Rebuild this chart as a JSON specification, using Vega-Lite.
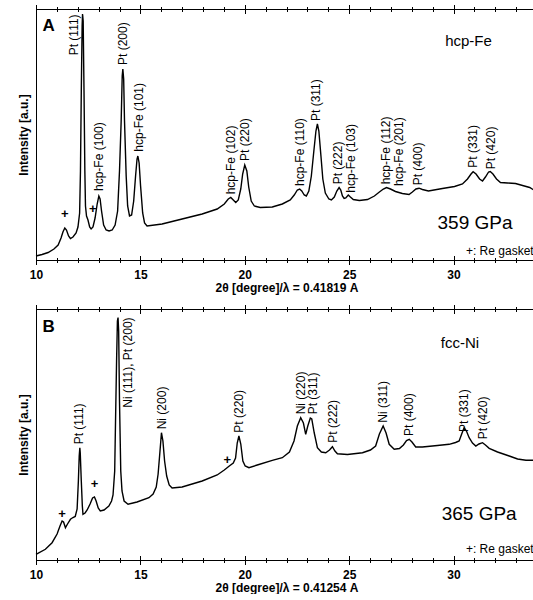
{
  "$schema": "https://vega.github.io/schema/vega-lite/v6.json",
  "padding": {"left": 16, "top": 3, "right": 0, "bottom": 0},
  "bounds": "flush",
  "spacing": 49,
  "datasets": {
    "lineA": [
      {"t":10.00,"i":4},{"t":10.29,"i":5.5},{"t":10.58,"i":7.5},{"t":10.86,"i":11},{"t":11.06,"i":15},{"t":11.20,"i":22},{"t":11.29,"i":28},{"t":11.38,"i":32},{"t":11.46,"i":30},{"t":11.56,"i":24},{"t":11.65,"i":21.5},{"t":11.77,"i":23},{"t":11.92,"i":27},{"t":12.01,"i":33},{"t":12.09,"i":47},{"t":12.13,"i":89},{"t":12.17,"i":169},{"t":12.21,"i":234},{"t":12.23,"i":246},{"t":12.26,"i":239},{"t":12.30,"i":169},{"t":12.34,"i":89},{"t":12.37,"i":54},{"t":12.42,"i":44},{"t":12.49,"i":40},{"t":12.57,"i":33},{"t":12.64,"i":31},{"t":12.73,"i":33},{"t":12.83,"i":42},{"t":12.93,"i":56},{"t":13.01,"i":64},{"t":13.07,"i":61},{"t":13.14,"i":49},{"t":13.24,"i":35},{"t":13.36,"i":30},{"t":13.50,"i":29},{"t":13.65,"i":30},{"t":13.79,"i":35},{"t":13.91,"i":49},{"t":14.00,"i":89},{"t":14.08,"i":139},{"t":14.13,"i":184},{"t":14.16,"i":191},{"t":14.20,"i":181},{"t":14.24,"i":139},{"t":14.32,"i":84},{"t":14.39,"i":54},{"t":14.48,"i":44},{"t":14.58,"i":45},{"t":14.68,"i":59},{"t":14.77,"i":84},{"t":14.84,"i":101},{"t":14.88,"i":104},{"t":14.94,"i":97},{"t":15.01,"i":74},{"t":15.11,"i":47},{"t":15.20,"i":37},{"t":15.32,"i":34},{"t":16.04,"i":36},{"t":17.00,"i":41},{"t":17.96,"i":46},{"t":18.68,"i":51},{"t":19.02,"i":56},{"t":19.21,"i":61},{"t":19.33,"i":62.5},{"t":19.45,"i":60},{"t":19.57,"i":57.5},{"t":19.69,"i":60},{"t":19.81,"i":71},{"t":19.90,"i":86},{"t":20.00,"i":95},{"t":20.10,"i":89},{"t":20.19,"i":73},{"t":20.31,"i":59},{"t":20.46,"i":54},{"t":20.74,"i":52.5},{"t":21.32,"i":53},{"t":21.80,"i":56},{"t":22.18,"i":60},{"t":22.37,"i":65},{"t":22.52,"i":70},{"t":22.63,"i":71},{"t":22.73,"i":69},{"t":22.85,"i":65},{"t":22.95,"i":64},{"t":23.07,"i":69},{"t":23.19,"i":84},{"t":23.31,"i":109},{"t":23.41,"i":129},{"t":23.48,"i":136},{"t":23.55,"i":129},{"t":23.65,"i":104},{"t":23.74,"i":81},{"t":23.86,"i":67},{"t":24.03,"i":61},{"t":24.15,"i":60},{"t":24.29,"i":63},{"t":24.41,"i":69},{"t":24.52,"i":72.5},{"t":24.60,"i":70},{"t":24.68,"i":64},{"t":24.76,"i":61.5},{"t":24.84,"i":62},{"t":24.96,"i":65},{"t":25.06,"i":63},{"t":25.20,"i":60.5},{"t":25.49,"i":59.5},{"t":25.88,"i":60.5},{"t":26.21,"i":64},{"t":26.45,"i":68},{"t":26.64,"i":71},{"t":26.79,"i":72.5},{"t":26.98,"i":71},{"t":27.22,"i":68.5},{"t":27.55,"i":66.5},{"t":27.87,"i":65.5},{"t":28.03,"i":68},{"t":28.20,"i":71},{"t":28.35,"i":71.8},{"t":28.51,"i":70.5},{"t":28.80,"i":69},{"t":29.47,"i":71.5},{"t":30.05,"i":73.5},{"t":30.43,"i":76},{"t":30.67,"i":81},{"t":30.84,"i":86},{"t":30.94,"i":88.3},{"t":31.08,"i":86},{"t":31.25,"i":81},{"t":31.39,"i":79},{"t":31.53,"i":83},{"t":31.68,"i":88},{"t":31.76,"i":88.5},{"t":31.89,"i":86},{"t":32.06,"i":81},{"t":32.25,"i":77.5},{"t":32.59,"i":77},{"t":32.97,"i":76.5},{"t":33.31,"i":74.5},{"t":33.65,"i":72.5},{"t":33.93,"i":69}
    ],
    "lineB": [
      {"t":10.00,"i":5.7},{"t":10.45,"i":10.7},{"t":10.77,"i":17.3},{"t":11.01,"i":26},{"t":11.15,"i":34},{"t":11.25,"i":39},{"t":11.32,"i":38},{"t":11.41,"i":32.3},{"t":11.51,"i":36},{"t":11.65,"i":40.7},{"t":11.77,"i":42.5},{"t":11.88,"i":43.5},{"t":11.97,"i":51},{"t":12.03,"i":79},{"t":12.07,"i":104},{"t":12.10,"i":112.3},{"t":12.12,"i":107},{"t":12.17,"i":79},{"t":12.22,"i":54},{"t":12.25,"i":45.7},{"t":12.35,"i":47},{"t":12.45,"i":50},{"t":12.59,"i":56},{"t":12.71,"i":62},{"t":12.80,"i":63},{"t":12.88,"i":59},{"t":12.98,"i":52},{"t":13.08,"i":49},{"t":13.26,"i":50},{"t":13.49,"i":54},{"t":13.62,"i":59},{"t":13.69,"i":65},{"t":13.77,"i":89},{"t":13.81,"i":139},{"t":13.86,"i":199},{"t":13.90,"i":239},{"t":13.93,"i":242.5},{"t":13.96,"i":229},{"t":14.00,"i":159},{"t":14.06,"i":89},{"t":14.12,"i":69},{"t":14.22,"i":59},{"t":14.41,"i":55.7},{"t":14.84,"i":58},{"t":15.41,"i":62.3},{"t":15.61,"i":66},{"t":15.76,"i":73},{"t":15.85,"i":86},{"t":15.94,"i":109},{"t":16.01,"i":127.3},{"t":16.08,"i":119},{"t":16.16,"i":99},{"t":16.26,"i":84},{"t":16.38,"i":75},{"t":16.52,"i":72},{"t":17.00,"i":73},{"t":17.96,"i":79},{"t":18.68,"i":85},{"t":19.02,"i":90},{"t":19.26,"i":94},{"t":19.45,"i":97},{"t":19.56,"i":102},{"t":19.64,"i":117},{"t":19.72,"i":124},{"t":19.81,"i":116},{"t":19.91,"i":99},{"t":20.02,"i":94},{"t":20.20,"i":92.3},{"t":20.60,"i":95},{"t":21.32,"i":99.7},{"t":21.80,"i":102.3},{"t":22.14,"i":108},{"t":22.36,"i":119},{"t":22.52,"i":134},{"t":22.68,"i":142.3},{"t":22.81,"i":137},{"t":22.92,"i":125.7},{"t":23.02,"i":134},{"t":23.14,"i":142},{"t":23.21,"i":141},{"t":23.33,"i":127},{"t":23.48,"i":112.3},{"t":23.67,"i":108},{"t":23.88,"i":107.3},{"t":24.06,"i":110},{"t":24.20,"i":113.3},{"t":24.32,"i":109},{"t":24.44,"i":106.3},{"t":24.92,"i":105.5},{"t":25.64,"i":107.3},{"t":26.02,"i":110},{"t":26.27,"i":114},{"t":26.45,"i":126},{"t":26.63,"i":134},{"t":26.77,"i":127},{"t":26.92,"i":115.7},{"t":27.16,"i":110.7},{"t":27.41,"i":111.5},{"t":27.60,"i":115},{"t":27.75,"i":119.5},{"t":27.88,"i":120.7},{"t":28.01,"i":118},{"t":28.19,"i":113},{"t":28.51,"i":113},{"t":29.23,"i":114.5},{"t":29.79,"i":115.7},{"t":30.10,"i":117.5},{"t":30.27,"i":119},{"t":30.41,"i":127},{"t":30.51,"i":132.3},{"t":30.62,"i":129},{"t":30.75,"i":122.3},{"t":30.91,"i":117},{"t":31.07,"i":114},{"t":31.22,"i":116},{"t":31.39,"i":117.3},{"t":31.53,"i":115},{"t":31.71,"i":111.7},{"t":32.11,"i":108},{"t":32.67,"i":104},{"t":33.07,"i":101},{"t":33.47,"i":99.7},{"t":33.93,"i":99.7}
    ],
    "hklA": [
      {"t":11.81,"i":204.7,"label":"Pt (111)"},
      {"t":13.01,"i":69,"label":"hcp-Fe (100)"},
      {"t":14.16,"i":195,"label":"Pt (200)"},
      {"t":14.93,"i":108.3,"label":"hcp-Fe (101)"},
      {"t":19.32,"i":65.7,"label":"hcp-Fe (102)"},
      {"t":20.01,"i":99,"label":"Pt (220)"},
      {"t":22.63,"i":74,"label":"hcp-Fe (110)"},
      {"t":23.43,"i":139,"label":"Pt (311)"},
      {"t":24.48,"i":75.7,"label":"Pt (222)"},
      {"t":25.07,"i":67.3,"label":"hcp-Fe (103)"},
      {"t":26.75,"i":75.7,"label":"hcp-Fe (112)"},
      {"t":27.40,"i":74,"label":"hcp-Fe (201)"},
      {"t":28.32,"i":74.7,"label":"Pt (400)"},
      {"t":30.94,"i":92.3,"label":"Pt (331)"},
      {"t":31.81,"i":90.7,"label":"Pt (420)"}
    ],
    "hklB": [
      {"t":12.05,"i":115.7,"label":"Pt (111)"},
      {"t":14.41,"i":152.3,"label":"Ni (111), Pt (200)"},
      {"t":16.04,"i":130.7,"label":"Ni (200)"},
      {"t":19.72,"i":127.3,"label":"Pt (220)"},
      {"t":22.68,"i":145.7,"label":"Ni (220)"},
      {"t":23.27,"i":145.7,"label":"Pt (311)"},
      {"t":24.23,"i":117.3,"label":"Pt (222)"},
      {"t":26.63,"i":137.3,"label":"Ni (311)"},
      {"t":27.88,"i":124,"label":"Pt (400)"},
      {"t":30.51,"i":128,"label":"Pt (331)"},
      {"t":31.42,"i":120.7,"label":"Pt (420)"}
    ],
    "annA": [
      {"t":11.38,"i":45.7,"label":"+","role":"plus"},
      {"t":12.72,"i":51.3,"label":"+","role":"plus"},
      {"t":10.60,"i":234.5,"label":"A","role":"tag"},
      {"t":30.72,"i":219,"label":"hcp-Fe","role":"phase"},
      {"t":31.03,"i":37.5,"label":"359 GPa","role":"pressure"},
      {"t":33.84,"i":9,"label":"+: Re gasket","role":"note"}
    ],
    "annB": [
      {"t":11.25,"i":45.7,"label":"+","role":"plus"},
      {"t":12.80,"i":75.7,"label":"+","role":"plus"},
      {"t":19.16,"i":99.7,"label":"+","role":"plus"},
      {"t":10.60,"i":233.5,"label":"B","role":"tag"},
      {"t":30.31,"i":217.3,"label":"fcc-Ni","role":"phase"},
      {"t":31.23,"i":45.7,"label":"365 GPa","role":"pressure"},
      {"t":33.84,"i":10.7,"label":"+: Re gasket","role":"note"}
    ]
  },
  "vconcat": [
    {
      "width": 501,
      "height": 251,
      "resolve": {"axis": {"x": "independent"}},
      "layer": [
        {
          "data": {"name": "lineA"},
          "mark": {"type": "line", "color": "black", "strokeWidth": 1.4},
          "encoding": {
            "x": {"field": "t", "type": "quantitative", "scale": {"domain": [10, 34], "nice": false, "zero": false},
              "axis": {"orient": "bottom", "values": [10, 15, 20, 25, 30], "tickSize": 9, "offset": -4.5, "labelPadding": 5, "format": "d", "title": "2θ [degree]/λ = 0.41819 A", "titlePadding": 2}},
            "y": {"field": "i", "type": "quantitative", "scale": {"domain": [0, 251], "nice": false, "zero": false},
              "axis": {"orient": "left", "title": "Intensity [a.u.]", "labels": false, "ticks": false, "domain": true, "domainColor": "black", "titlePadding": 6}}
          }
        },
        {
          "data": {"name": "annA"},
          "transform": [{"filter": "datum.role === 'plus'"}],
          "mark": {"type": "text", "fontSize": 13, "fontWeight": "bold", "color": "black", "align": "center", "baseline": "middle"},
          "encoding": {
            "x": {"field": "t", "type": "quantitative", "scale": {"domain": [10, 34], "nice": false, "zero": false},
              "axis": {"orient": "bottom", "values": [11,12,13,14,15,16,17,18,19,20,21,22,23,24,25,26,27,28,29,30,31,32,33,34], "tickSize": 5, "offset": -2.5, "labels": false, "title": null}},
            "y": {"field": "i", "type": "quantitative", "scale": {"domain": [0, 251], "nice": false, "zero": false},
              "axis": {"orient": "left", "title": "Intensity [a.u.]", "labels": false, "ticks": false, "domain": true, "domainColor": "black", "titlePadding": 6}},
            "text": {"field": "label"}
          }
        },
        {
          "data": {"name": "hklA"},
          "mark": {"type": "text", "fontSize": 12, "color": "black", "angle": 270, "align": "left", "baseline": "middle"},
          "encoding": {
            "x": {"field": "t", "type": "quantitative", "scale": {"domain": [10, 34], "nice": false, "zero": false},
              "axis": {"orient": "top", "values": [10, 15, 20, 25, 30], "tickSize": 9, "offset": -4.5, "labels": false, "title": null}},
            "y": {"field": "i", "type": "quantitative", "scale": {"domain": [0, 251], "nice": false, "zero": false},
              "axis": {"orient": "left", "title": "Intensity [a.u.]", "labels": false, "ticks": false, "domain": true, "domainColor": "black", "titlePadding": 6}},
            "text": {"field": "label"}
          }
        },
        {
          "data": {"name": "annA"},
          "transform": [{"filter": "datum.role === 'tag'"}],
          "mark": {"type": "text", "fontSize": 17, "fontWeight": "bold", "color": "black", "align": "center", "baseline": "middle"},
          "encoding": {
            "x": {"field": "t", "type": "quantitative", "scale": {"domain": [10, 34], "nice": false, "zero": false},
              "axis": {"orient": "top", "values": [11,12,13,14,15,16,17,18,19,20,21,22,23,24,25,26,27,28,29,30,31,32,33,34], "tickSize": 5, "offset": -2.5, "labels": false, "title": null}},
            "y": {"field": "i", "type": "quantitative", "scale": {"domain": [0, 251], "nice": false, "zero": false},
              "axis": {"orient": "left", "title": "Intensity [a.u.]", "labels": false, "ticks": false, "domain": true, "domainColor": "black", "titlePadding": 6}},
            "text": {"field": "label"}
          }
        },
        {
          "data": {"name": "annA"},
          "transform": [{"filter": "datum.role === 'phase'"}],
          "mark": {"type": "text", "fontSize": 15, "color": "black", "align": "center", "baseline": "middle"},
          "encoding": {
            "x": {"field": "t", "type": "quantitative", "scale": {"domain": [10, 34], "nice": false, "zero": false}, "axis": null},
            "y": {"field": "i", "type": "quantitative", "scale": {"domain": [0, 251], "nice": false, "zero": false},
              "axis": {"orient": "left", "title": "Intensity [a.u.]", "labels": false, "ticks": false, "domain": true, "domainColor": "black", "titlePadding": 6}},
            "text": {"field": "label"}
          }
        },
        {
          "data": {"name": "annA"},
          "transform": [{"filter": "datum.role === 'pressure'"}],
          "mark": {"type": "text", "fontSize": 19, "color": "black", "align": "center", "baseline": "middle"},
          "encoding": {
            "x": {"field": "t", "type": "quantitative", "scale": {"domain": [10, 34], "nice": false, "zero": false}, "axis": null},
            "y": {"field": "i", "type": "quantitative", "scale": {"domain": [0, 251], "nice": false, "zero": false},
              "axis": {"orient": "left", "title": "Intensity [a.u.]", "labels": false, "ticks": false, "domain": true, "domainColor": "black", "titlePadding": 6}},
            "text": {"field": "label"}
          }
        },
        {
          "data": {"name": "annA"},
          "transform": [{"filter": "datum.role === 'note'"}],
          "mark": {"type": "text", "fontSize": 12, "color": "black", "align": "right", "baseline": "middle"},
          "encoding": {
            "x": {"field": "t", "type": "quantitative", "scale": {"domain": [10, 34], "nice": false, "zero": false}, "axis": null},
            "y": {"field": "i", "type": "quantitative", "scale": {"domain": [0, 251], "nice": false, "zero": false},
              "axis": {"orient": "left", "title": "Intensity [a.u.]", "labels": false, "ticks": false, "domain": true, "domainColor": "black", "titlePadding": 6}},
            "text": {"field": "label"}
          }
        }
      ]
    },
    {
      "width": 501,
      "height": 251,
      "resolve": {"axis": {"x": "independent"}},
      "layer": [
        {
          "data": {"name": "lineB"},
          "mark": {"type": "line", "color": "black", "strokeWidth": 1.4},
          "encoding": {
            "x": {"field": "t", "type": "quantitative", "scale": {"domain": [10, 34], "nice": false, "zero": false},
              "axis": {"orient": "bottom", "values": [10, 15, 20, 25, 30], "tickSize": 9, "offset": -4.5, "labelPadding": 5, "format": "d", "title": "2θ [degree]/λ = 0.41254 A", "titlePadding": 2}},
            "y": {"field": "i", "type": "quantitative", "scale": {"domain": [0, 251], "nice": false, "zero": false},
              "axis": {"orient": "left", "title": "Intensity [a.u.]", "labels": false, "ticks": false, "domain": true, "domainColor": "black", "titlePadding": 6}}
          }
        },
        {
          "data": {"name": "annB"},
          "transform": [{"filter": "datum.role === 'plus'"}],
          "mark": {"type": "text", "fontSize": 13, "fontWeight": "bold", "color": "black", "align": "center", "baseline": "middle"},
          "encoding": {
            "x": {"field": "t", "type": "quantitative", "scale": {"domain": [10, 34], "nice": false, "zero": false},
              "axis": {"orient": "bottom", "values": [11,12,13,14,15,16,17,18,19,20,21,22,23,24,25,26,27,28,29,30,31,32,33,34], "tickSize": 5, "offset": -2.5, "labels": false, "title": null}},
            "y": {"field": "i", "type": "quantitative", "scale": {"domain": [0, 251], "nice": false, "zero": false},
              "axis": {"orient": "left", "title": "Intensity [a.u.]", "labels": false, "ticks": false, "domain": true, "domainColor": "black", "titlePadding": 6}},
            "text": {"field": "label"}
          }
        },
        {
          "data": {"name": "hklB"},
          "mark": {"type": "text", "fontSize": 12, "color": "black", "angle": 270, "align": "left", "baseline": "middle"},
          "encoding": {
            "x": {"field": "t", "type": "quantitative", "scale": {"domain": [10, 34], "nice": false, "zero": false},
              "axis": {"orient": "top", "values": [10, 15, 20, 25, 30], "tickSize": 9, "offset": -4.5, "labels": false, "title": null}},
            "y": {"field": "i", "type": "quantitative", "scale": {"domain": [0, 251], "nice": false, "zero": false},
              "axis": {"orient": "left", "title": "Intensity [a.u.]", "labels": false, "ticks": false, "domain": true, "domainColor": "black", "titlePadding": 6}},
            "text": {"field": "label"}
          }
        },
        {
          "data": {"name": "annB"},
          "transform": [{"filter": "datum.role === 'tag'"}],
          "mark": {"type": "text", "fontSize": 17, "fontWeight": "bold", "color": "black", "align": "center", "baseline": "middle"},
          "encoding": {
            "x": {"field": "t", "type": "quantitative", "scale": {"domain": [10, 34], "nice": false, "zero": false},
              "axis": {"orient": "top", "values": [11,12,13,14,15,16,17,18,19,20,21,22,23,24,25,26,27,28,29,30,31,32,33,34], "tickSize": 5, "offset": -2.5, "labels": false, "title": null}},
            "y": {"field": "i", "type": "quantitative", "scale": {"domain": [0, 251], "nice": false, "zero": false},
              "axis": {"orient": "left", "title": "Intensity [a.u.]", "labels": false, "ticks": false, "domain": true, "domainColor": "black", "titlePadding": 6}},
            "text": {"field": "label"}
          }
        },
        {
          "data": {"name": "annB"},
          "transform": [{"filter": "datum.role === 'phase'"}],
          "mark": {"type": "text", "fontSize": 15, "color": "black", "align": "center", "baseline": "middle"},
          "encoding": {
            "x": {"field": "t", "type": "quantitative", "scale": {"domain": [10, 34], "nice": false, "zero": false}, "axis": null},
            "y": {"field": "i", "type": "quantitative", "scale": {"domain": [0, 251], "nice": false, "zero": false},
              "axis": {"orient": "left", "title": "Intensity [a.u.]", "labels": false, "ticks": false, "domain": true, "domainColor": "black", "titlePadding": 6}},
            "text": {"field": "label"}
          }
        },
        {
          "data": {"name": "annB"},
          "transform": [{"filter": "datum.role === 'pressure'"}],
          "mark": {"type": "text", "fontSize": 19, "color": "black", "align": "center", "baseline": "middle"},
          "encoding": {
            "x": {"field": "t", "type": "quantitative", "scale": {"domain": [10, 34], "nice": false, "zero": false}, "axis": null},
            "y": {"field": "i", "type": "quantitative", "scale": {"domain": [0, 251], "nice": false, "zero": false},
              "axis": {"orient": "left", "title": "Intensity [a.u.]", "labels": false, "ticks": false, "domain": true, "domainColor": "black", "titlePadding": 6}},
            "text": {"field": "label"}
          }
        },
        {
          "data": {"name": "annB"},
          "transform": [{"filter": "datum.role === 'note'"}],
          "mark": {"type": "text", "fontSize": 12, "color": "black", "align": "right", "baseline": "middle"},
          "encoding": {
            "x": {"field": "t", "type": "quantitative", "scale": {"domain": [10, 34], "nice": false, "zero": false}, "axis": null},
            "y": {"field": "i", "type": "quantitative", "scale": {"domain": [0, 251], "nice": false, "zero": false},
              "axis": {"orient": "left", "title": "Intensity [a.u.]", "labels": false, "ticks": false, "domain": true, "domainColor": "black", "titlePadding": 6}},
            "text": {"field": "label"}
          }
        }
      ]
    }
  ],
  "config": {
    "background": "white",
    "view": {"stroke": "black", "strokeWidth": 1},
    "axis": {"grid": false, "domain": false, "tickColor": "black", "tickWidth": 1, "labelColor": "black", "titleColor": "black", "labelFont": "Liberation Sans", "titleFont": "Liberation Sans", "labelFontWeight": "bold", "labelFontSize": 12, "titleFontSize": 12, "titleFontWeight": "bold", "labelFlush": false, "labelOverlap": false},
    "text": {"font": "Liberation Sans", "color": "black"}
  }
}
